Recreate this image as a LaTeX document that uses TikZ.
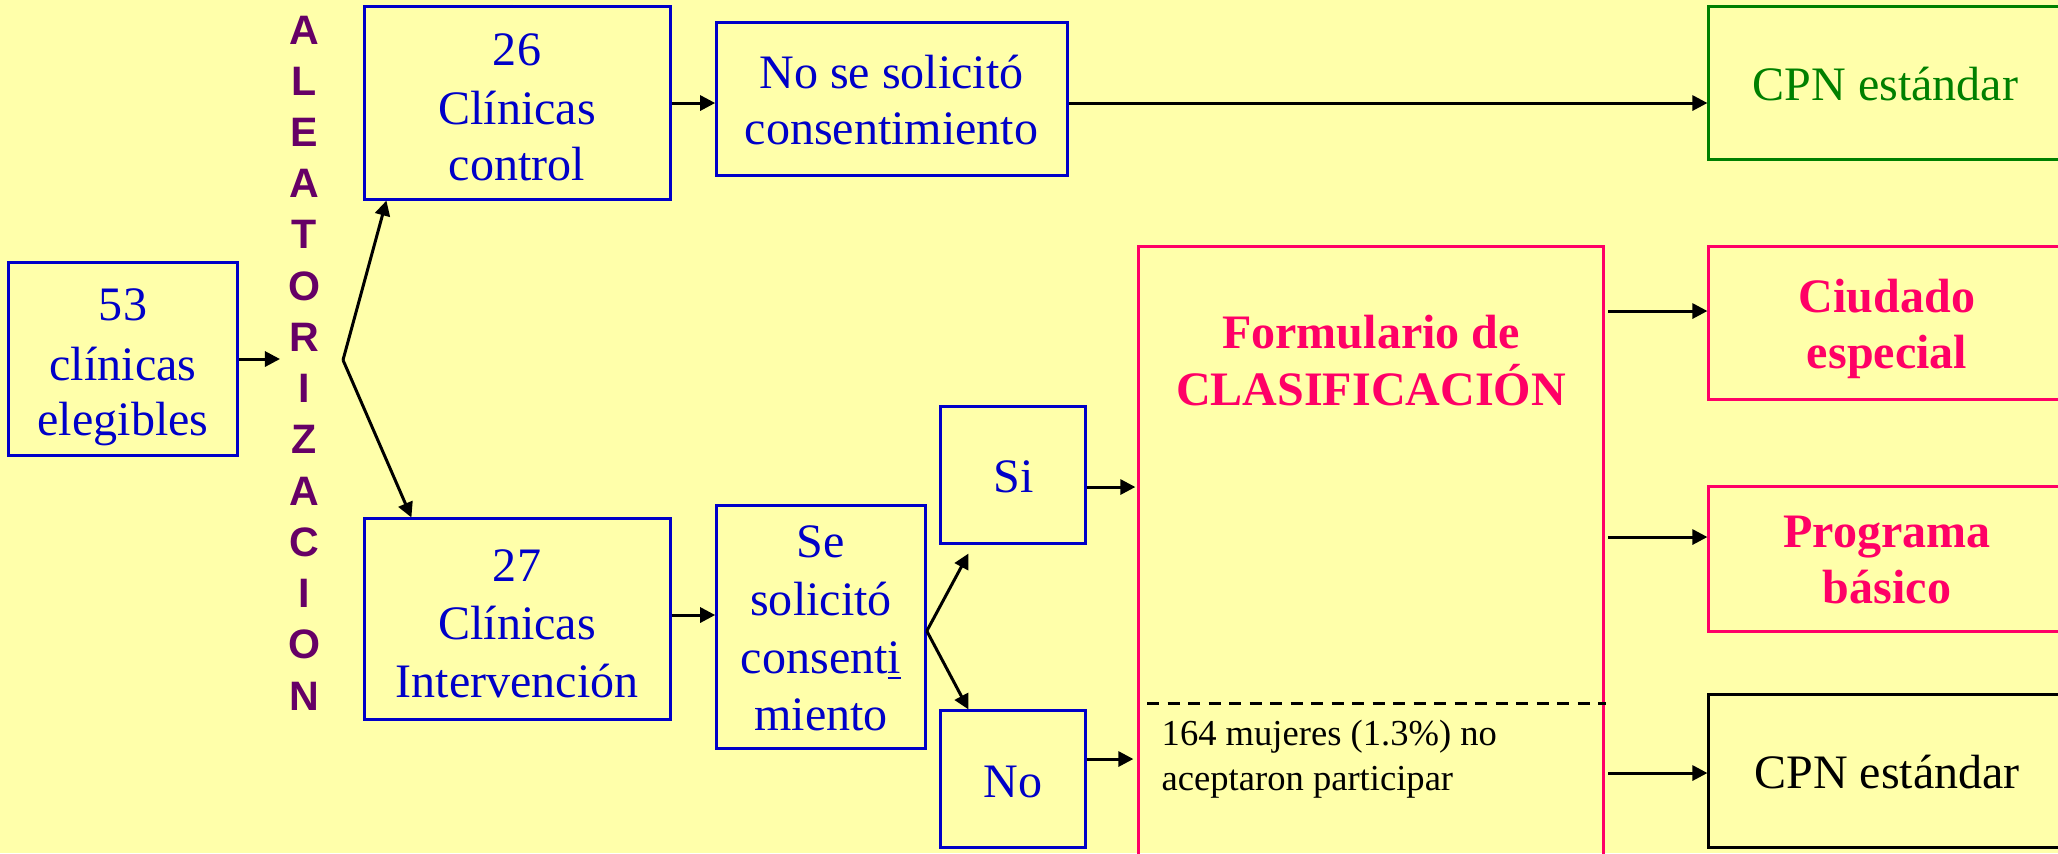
\documentclass[tikz,border=0pt]{standalone}
\usepackage{fontspec}
\setmainfont{Liberation Serif}
\newfontfamily\aleafont{Liberation Sans}
\usetikzlibrary{arrows.meta,calc}
\definecolor{bgy}{HTML}{FFFFAA}
\definecolor{tblue}{HTML}{0000C8}
\definecolor{tpink}{HTML}{FF0066}
\definecolor{tgreen}{HTML}{008000}
\definecolor{tpurple}{HTML}{660066}
\tikzset{
  boxbase/.style={rectangle, inner sep=0pt, line width=0.85pt},
  bluebox/.style={boxbase, draw=tblue},
  pinkbox/.style={boxbase, draw=tpink},
  greenbox/.style={boxbase, draw=tgreen},
  blackbox/.style={boxbase, draw=black},
  txt/.style={inner sep=0pt, anchor=base, font=\fontsize{13.66pt}{16.4pt}\selectfont},
  bt/.style={txt, text=tblue},
  pt/.style={txt, text=tpink, font=\fontsize{13.66pt}{16.4pt}\selectfont\bfseries},
  gt/.style={txt, text=tgreen},
  kt/.style={txt, text=black},
  smalltxt/.style={inner sep=0pt, anchor=base west, text=black, font=\fontsize{10.4pt}{12.8pt}\selectfont},
  alea/.style={inner sep=0pt, anchor=base, text=tpurple, font=\fontsize{11.7pt}{14pt}\selectfont\aleafont\bfseries},
  arr/.style={line width=0.85pt, -{Triangle[length=0.15cm,width=0.15cm]}},
  conn/.style={line width=0.85pt},
  dsh/.style={line width=0.85pt, dash pattern=on 0.12cm off 0.085cm}
}
\begin{document}
\begin{tikzpicture}[x=0.01cm, y=-0.01cm]
\useasboundingbox (0,0) rectangle (2058,853);
\fill[bgy] (0,0) rectangle (2058,853);
\clip (0,0) rectangle (2058,853);

% boxes
\node[bluebox, minimum width=2.285cm, minimum height=1.92cm] (b53) at (123,359) {};
\node[bluebox, minimum width=3.05cm, minimum height=1.92cm] (b26) at (517.5,103) {};
\node[bluebox, minimum width=3.05cm, minimum height=2.00cm] (b27) at (517.5,619) {};
\node[bluebox, minimum width=3.505cm, minimum height=1.52cm] (bno) at (892,99) {};
\node[bluebox, minimum width=2.085cm, minimum height=2.42cm] (bse) at (821,627) {};
\node[bluebox, minimum width=1.44cm, minimum height=1.36cm] (bsi) at (1013,475) {};
\node[bluebox, minimum width=1.44cm, minimum height=1.36cm] (bnoo) at (1013,779) {};
\node[pinkbox, minimum width=4.645cm, minimum height=6.53cm] (form) at (1371.25,573.5) {};
\node[greenbox, minimum width=3.54cm, minimum height=1.52cm] (cpn1) at (1886,83) {};
\node[pinkbox, minimum width=3.54cm, minimum height=1.52cm] (ciu) at (1886,323) {};
\node[pinkbox, minimum width=3.54cm, minimum height=1.44cm] (prog) at (1886,559) {};
\node[blackbox, minimum width=3.54cm, minimum height=1.52cm] (cpn2) at (1886,771) {};

% texts
\node[bt] (t53a) at (123,320) {53};
\node[bt] (t53b) at (123,380) {clínicas};
\node[bt] (t53c) at (123,435) {elegibles};

\node[bt] (t26a) at (517,65) {26};
\node[bt] (t26b) at (517,124) {Clínicas};
\node[bt] (t26c) at (517,180) {control};

\node[bt] (t27a) at (517,581) {27};
\node[bt] (t27b) at (517,639) {Clínicas};
\node[bt] (t27c) at (517,697) {Intervención};

\node[bt] (tnoa) at (891.5,88) {No se solicitó};
\node[bt] (tnob) at (891.5,144) {consentimiento};

\node[bt] (tsea) at (821,557) {Se};
\node[bt] (tseb) at (821,615) {solicitó};
\node[bt] (tsec) at (821,673) {consent\underline{i}};
\node[bt] (tsed) at (821,730) {miento};

\node[bt] (tsi) at (1013.5,492) {Si};
\node[bt] (tnoo) at (1013,797) {No};

\node[pt] (tfa) at (1371,348) {Formulario de};
\node[pt] (tfb) at (1371,405) {CLASIFICACIÓN};

\node[smalltxt] (tma) at (1161,745) {164 mujeres (1.3\%) no};
\node[smalltxt] (tmb) at (1161,790) {aceptaron participar};

\node[gt] (tcpn1) at (1885.5,100) {CPN estándar};
\node[pt] (tciua) at (1887,312) {Ciudado};
\node[pt] (tciub) at (1887,368) {especial};
\node[pt] (tproa) at (1887,547) {Programa};
\node[pt] (tprob) at (1887,603) {básico};
\node[kt] (tcpn2) at (1887,788) {CPN estándar};

% ALEATORIZACION
\foreach \l [count=\i from 0] in {A,L,E,A,T,O,R,I,Z,A,C,I,O,N}
  \node[alea] (al\i) at (304.5,{44+\i*51.23}) {\l};

% connectors
\coordinate (a53) at (280,359);
\coordinate (br) at (343,360);
\draw[arr] (b53.east) -- (a53);
\draw[arr] (br) -- ($(b26.south west)+(23,0)$);
\draw[arr] (br) -- ($(b27.north west)+(48,0)$);

\draw[arr] (b26.east) -- (b26.east -| bno.west);
\draw[arr] (b26.east -| bno.east) -- (b26.east -| cpn1.west);

\coordinate (r27) at ($(b27.east)+(0,-4)$);
\draw[arr] (r27) -- (r27 -| bse.west);

\coordinate (bsb) at ($(bse.east)+(0,4)$);
\draw[arr] (bsb) -- ($(bsi.south west)+(29,9)$);
\draw[arr] (bsb) -- ($(bnoo.north west)+(29,0)$);

\coordinate (rsi) at ($(bsi.east)+(0,12)$);
\draw[arr] (rsi) -- ($(rsi -| form.west)+(-2,0)$);
\coordinate (rno) at ($(bnoo.east)+(0,-20)$);
\draw[arr] (rno) -- ($(rno -| form.west)+(-4,0)$);

\coordinate (lciu) at ($(ciu.west)+(0,-12)$);
\draw[arr] ($(lciu -| form.east)+(3,0)$) -- (lciu);
\coordinate (lpro) at ($(prog.west)+(0,-22)$);
\draw[arr] ($(lpro -| form.east)+(3,0)$) -- (lpro);
\coordinate (lcpn) at ($(cpn2.west)+(0,2)$);
\draw[arr] ($(lcpn -| form.east)+(3,0)$) -- (lcpn);

\coordinate (dl) at (1147,703);
\coordinate (dr) at (1606,703);
\draw[dsh] (dl) -- (dr);
\end{tikzpicture}
\end{document}
